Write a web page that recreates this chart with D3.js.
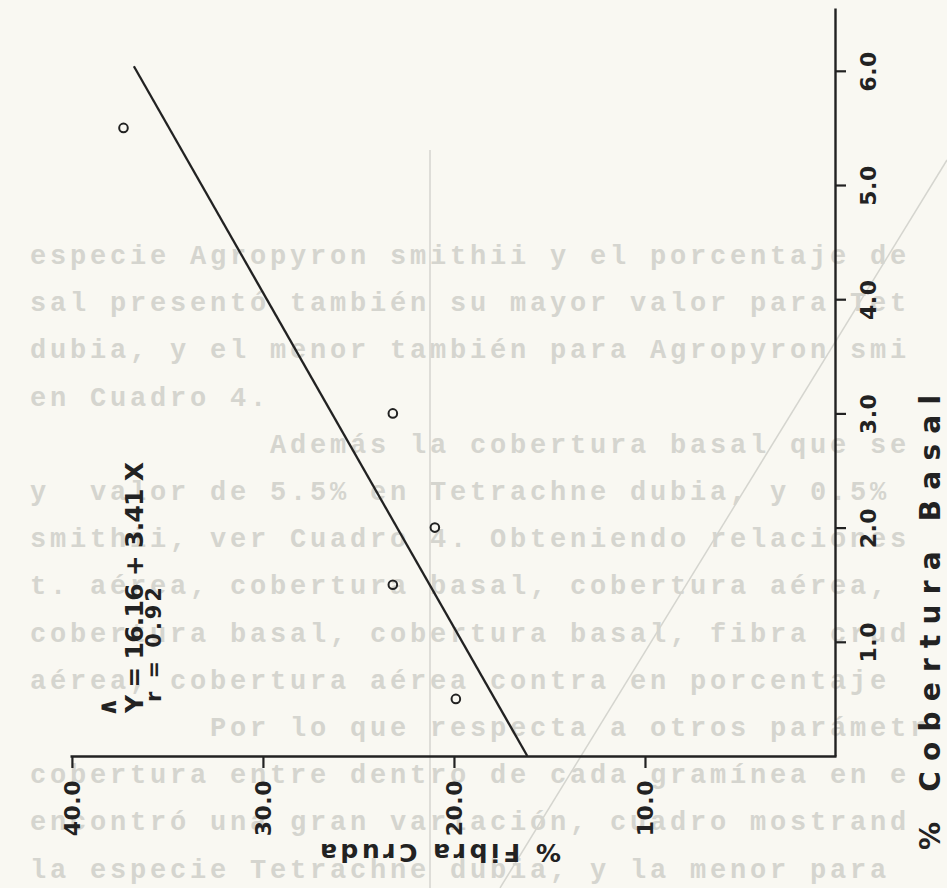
<!DOCTYPE html>
<html>
<head>
<meta charset="utf-8">
<script src="https://cdn.jsdelivr.net/npm/d3@7/dist/d3.min.js"></script>
<style>
    body { margin: 0; background: #f9f8f2; }
    svg { display: block; }
    .back { white-space: pre; }
</style>
</head>
<body>
<svg id="chart" width="947" height="888"></svg>
<script>
// % Cobertura Basal (X) vs % Fibra Cruda (Y) -- figure is printed turned on its side
const cobertura = [5.5, 3.0, 2.0, 1.5, 0.5];
const fibra     = [37.3, 23.2, 21.0, 23.2, 19.9];

const coberturaTicks = [1, 2, 3, 4, 5, 6];
const fibraTicks     = [40, 30, 20, 10];

// fitted line  Y^ = 16.16 + 3.41 X ,  r = 0.92
const intercept = 16.16;
const slope     = 3.41;
const rValue    = 0.92;
const fitRange  = [0, 6.04];

// text of the next page, showing through the paper
const backLines = [
    "especie Agropyron smithii y el porcentaje de",
    "sal presentó también su mayor valor para Tet",
    "dubia, y el menor también para Agropyron smi",
    "en Cuadro 4.",
    "            Además la cobertura basal que se",
    "y  valor de 5.5% en Tetrachne dubia, y 0.5%",
    "smithii, ver Cuadro 4. Obteniendo relaciones",
    "t. aérea, cobertura basal, cobertura aérea,",
    "cobertura basal, cobertura basal, fibra crud",
    "aérea, cobertura aérea contra en porcentaje",
    "         Por lo que respecta a otros parámetr",
    "cobertura entre dentro de cada gramínea en e",
    "encontró una gran variación, cuadro mostrand",
    "la especie Tetrachne dubia, y la menor para"
];

const svg = d3.select("#chart");

// cobertura runs up the page, fibra runs right-to-left
const xScale = d3.scaleLinear().domain([0, 6.55]).range([756, 8]);
const yScale = d3.scaleLinear().domain([0, 40.1]).range([836, 70]);

const ink = "#222222";
const ghost = "#d5d5cf";
const letterFont = "'DejaVu Sans', 'Liberation Sans', sans-serif";

//__ show-through from the other side of the sheet
const back = svg.append("g").attr("class", "backside");

back.selectAll("text")
    .data(backLines)
    .enter().append("text")
    .attr("class", "back")
    .attr("x", 30)
    .attr("y", (d, i) => 264 + i * 47.2)
    .attr("font-family", "'Liberation Mono', 'DejaVu Sans Mono', monospace")
    .attr("font-size", 27)
    .attr("font-weight", "bold")
    .attr("letter-spacing", 3.8)
    .attr("fill", ghost)
    .text(d => d);

back.append("line")
    .attr("x1", 430).attr("y1", 150)
    .attr("x2", 430).attr("y2", 888)
    .attr("stroke", ghost).attr("stroke-width", 1.5);

back.append("line")
    .attr("x1", 947).attr("y1", 160)
    .attr("x2", 500).attr("y2", 888)
    .attr("stroke", ghost).attr("stroke-width", 1.5);

//__ axes
const rightAxis = d3.axisRight(xScale)
    .tickValues(coberturaTicks)
    .tickFormat(d3.format(".1f"))
    .tickSize(11)
    .tickSizeOuter(0);

const gRight = svg.append("g")
    .attr("transform", "translate(835,0)")
    .call(rightAxis);

gRight.selectAll("text")
    .attr("x", null)
    .attr("y", null)
    .attr("dy", "0.36em")
    .attr("text-anchor", "middle")
    .attr("transform", "translate(33,0) rotate(-90)");

const bottomAxis = d3.axisBottom(yScale)
    .tickValues(fibraTicks)
    .tickFormat(d3.format(".1f"))
    .tickSize(12)
    .tickSizeOuter(0);

const gBottom = svg.append("g")
    .attr("transform", "translate(0,756)")
    .call(bottomAxis);

gBottom.selectAll("text")
    .attr("x", null)
    .attr("y", null)
    .attr("dy", "0.36em")
    .attr("text-anchor", "end")
    .attr("transform", "translate(0,24) rotate(-90)");

svg.selectAll(".domain").attr("stroke", ink).attr("stroke-width", 2.4);
svg.selectAll(".tick line").attr("stroke", ink).attr("stroke-width", 2.2);
svg.selectAll(".tick text")
    .attr("fill", ink)
    .attr("font-family", letterFont)
    .attr("font-weight", "bold")
    .attr("font-size", 22)
    .attr("letter-spacing", 0.5);

//__ axis titles
svg.append("text")
    .attr("transform", "translate(940,850) rotate(-90)")
    .attr("font-family", letterFont)
    .attr("font-weight", "bold")
    .attr("font-size", 28)
    .attr("textLength", 455)
    .attr("lengthAdjust", "spacing")
    .attr("fill", ink)
    .text("% Cobertura  Basal");

svg.append("text")
    .attr("transform", "translate(561,844) rotate(180)")
    .attr("font-family", letterFont)
    .attr("font-weight", "bold")
    .attr("font-size", 25)
    .attr("textLength", 241)
    .attr("lengthAdjust", "spacing")
    .attr("fill", ink)
    .text("% Fibra  Cruda");

//__ regression line
const fit = fitRange.map(x => ({ x: x, y: intercept + slope * x }));

svg.append("path")
    .datum(fit)
    .attr("d", d3.line().x(d => yScale(d.y)).y(d => xScale(d.x)))
    .attr("fill", "none")
    .attr("stroke", ink)
    .attr("stroke-width", 2.3);

//__ observed points
const points = cobertura.map((x, i) => ({ x: x, y: fibra[i] }));

svg.append("g").attr("class", "points")
    .selectAll("circle")
    .data(points)
    .enter().append("circle")
    .attr("cx", d => yScale(d.y))
    .attr("cy", d => xScale(d.x))
    .attr("r", 4.3)
    .attr("fill", "none")
    .attr("stroke", ink)
    .attr("stroke-width", 2);

//__ equation
const eq = svg.append("g").attr("class", "equation")
    .attr("fill", ink)
    .attr("font-family", letterFont)
    .attr("font-weight", "bold");

eq.append("text")
    .attr("transform", "translate(116,707) rotate(-90)")
    .attr("text-anchor", "middle")
    .attr("font-size", 25)
    .text("\u2227");

eq.append("text")
    .attr("transform", "translate(143,713) rotate(-90)")
    .attr("font-size", 25)
    .attr("textLength", 251)
    .attr("lengthAdjust", "spacing")
    .text(`Y = ${intercept} + ${slope} X`);

eq.append("text")
    .attr("transform", "translate(161,702) rotate(-90)")
    .attr("font-size", 21)
    .attr("textLength", 115)
    .attr("lengthAdjust", "spacing")
    .text(`r = ${rValue}`);
</script>
</body>
</html>
